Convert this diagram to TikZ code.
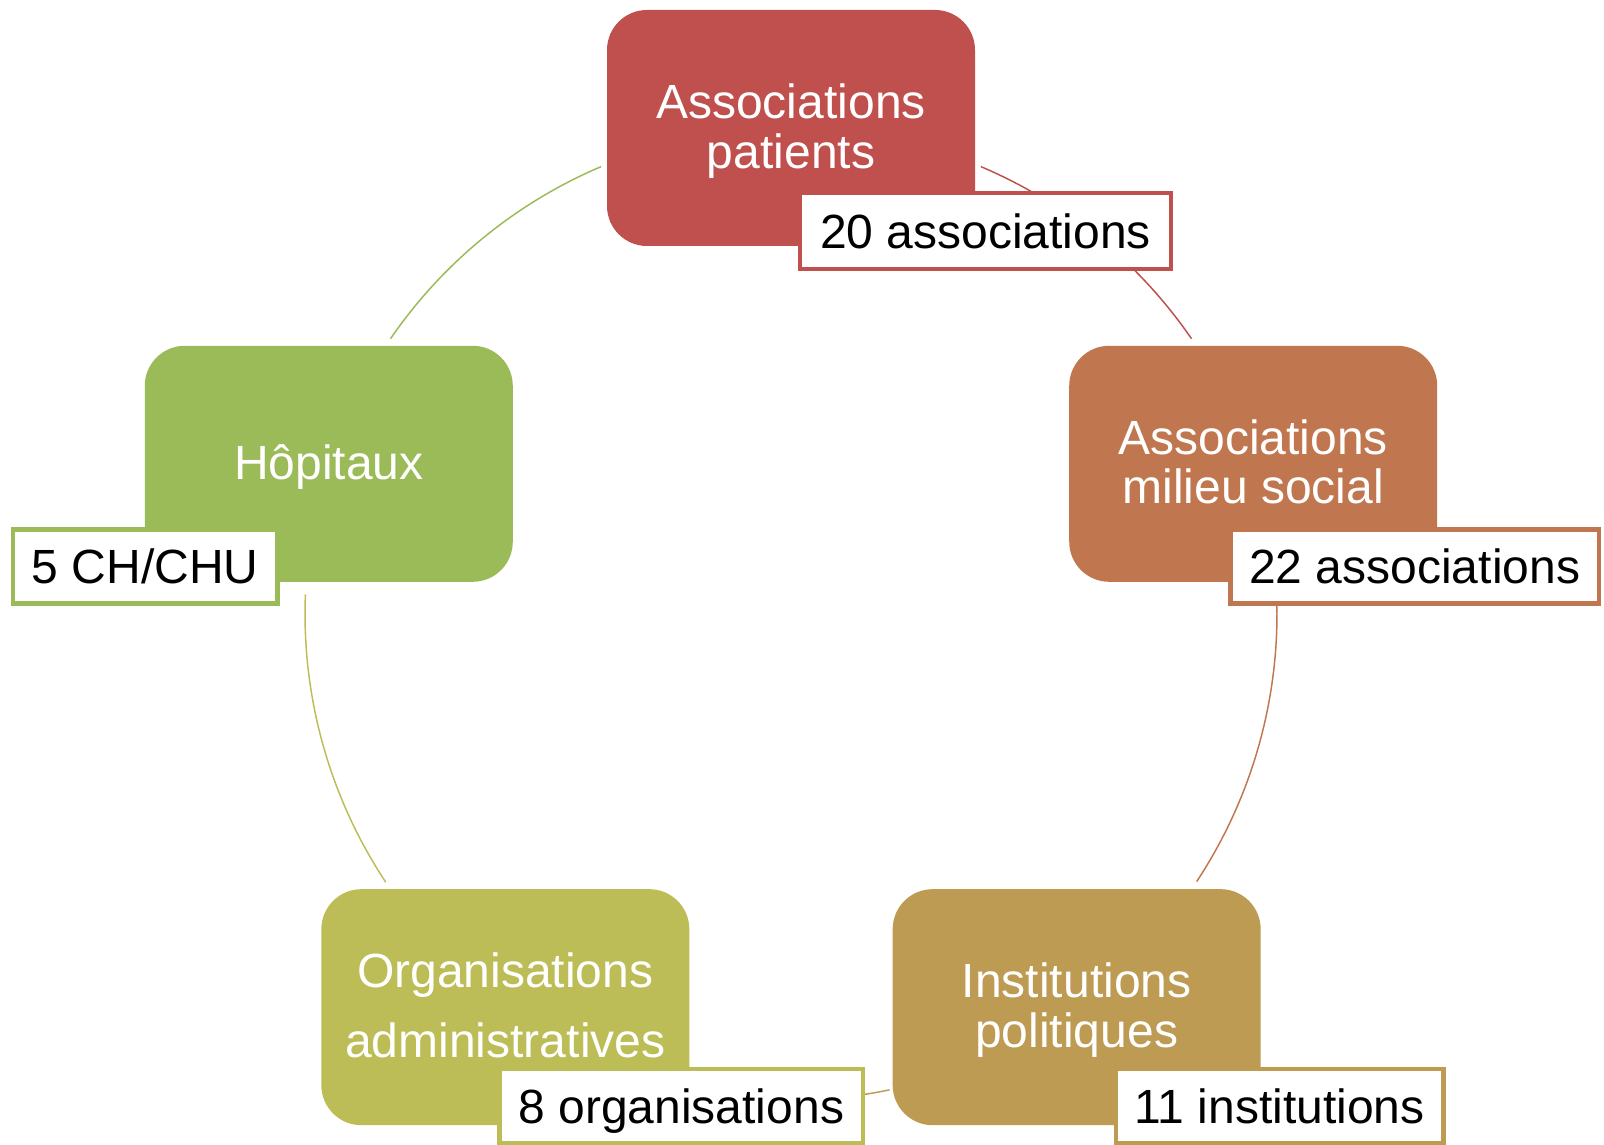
\documentclass[tikz,border=0pt]{standalone}
\usepackage{fontspec}
\setmainfont{Liberation Sans}
\usetikzlibrary{calc}
\definecolor{cred}{HTML}{C0504D}
\definecolor{corange}{HTML}{C0774F}
\definecolor{cgold}{HTML}{BE9B53}
\definecolor{colive}{HTML}{BDBD58}
\definecolor{cgreen}{HTML}{9BBB59}
\begin{document}
\begin{tikzpicture}[x=0.75pt,y=0.75pt,
  box/.style={rectangle, rounded corners=30pt, minimum width=276pt, minimum height=177pt,
    inner sep=0pt, text=white, align=center, text depth=3pt, font=\fontsize{36}{37}\selectfont},
  tag/.style={rectangle, draw, line width=3.4pt, fill=white, minimum height=55.5pt,
    inner sep=0pt, text=black, text depth=0pt, font=\fontsize{36}{37}\selectfont},
  link/.style={line width=1.1pt}]
\fill[white] (0,0) rectangle (1604,1145);
\useasboundingbox (0,0) rectangle (1604,1145);
\coordinate (c) at (791,531);
% arc end points
\coordinate (a1) at ($(c)+(67:486)$);
\coordinate (a2) at ($(c)+(2.3:486)$);
\coordinate (a3) at ($(c)+(-78.3:486)$);
\coordinate (a4) at ($(c)+(-146.5:486)$);
\coordinate (a5) at ($(c)+(145.5:486)$);
% arcs
\draw[link, cred] (a1) arc[start angle=67, end angle=34.5, radius=486];
\draw[link, corange] (a2) arc[start angle=2.3, end angle=-33.4, radius=486];
\draw[link, cgold] (a3) arc[start angle=-78.3, end angle=-101.7, radius=486];
\draw[link, colive] (a4) arc[start angle=-146.5, end angle=-182.3, radius=486];
\draw[link, cgreen] (a5) arc[start angle=145.5, end angle=113, radius=486];
% boxes
\node[box, fill=cred] (red) at ($(c)+(90:486)$) {Associations\\patients};
\node[box, fill=corange] (orange) at ($(c)+(18:486)$) {Associations\\milieu social};
\node[box, fill=cgold] (gold) at ($(c)+(-54:486)$) {Institutions\\politiques};
\node[box, fill=colive] (olive) at ($(c)+(-126:486)$) {Organisations\\[16pt]administratives};
\node[box, fill=cgreen] (green) at ($(c)+(162:486)$) {Hôpitaux};
% tags
\node[tag, draw=cred, minimum width=278pt, minimum height=57pt] (redtag) at ($(red)+(194.5,-103)$) {20 associations};
\node[tag, draw=corange, minimum width=276.4pt] (orangetag) at ($(orange)+(161.5,-102.5)$) {22 associations};
\node[tag, draw=cgold, minimum width=245.6pt] (goldtag) at ($(gold)+(203,-99)$) {11 institutions};
\node[tag, draw=colive, minimum width=272.6pt] (olivetag) at ($(olive)+(176,-99)$) {8 organisations};
\node[tag, draw=cgreen, minimum width=198.4pt] (greentag) at ($(green)+(-183.5,-102.5)$) {5 CH/CHU};
\end{tikzpicture}
\end{document}
